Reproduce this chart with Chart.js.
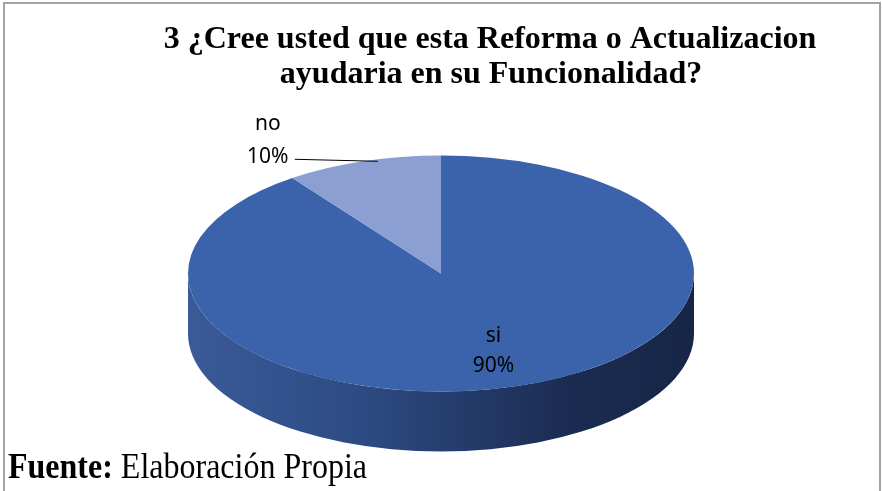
<!DOCTYPE html>
<html>
<head>
<meta charset="utf-8">
<script src="https://cdn.jsdelivr.net/npm/chart.js@4"></script>
<style>
  html, body { margin: 0; padding: 0; background: #fff; }
  #wrap { width: 882px; height: 491px; position: relative; }
</style>
</head>
<body>
<div id="wrap"><canvas id="myChart" width="882" height="491"></canvas></div>
<script>
const labels = ["si", "no"];
const values = [90, 10];
const colors = ["#3b63ab", "#8c9fd2"];
const titleLines = ["3 ¿Cree usted que esta Reforma o Actualizacion", "ayudaria en su Funcionalidad?"];

// flatten the pie into a tilted disc with a side wall
const SX = 1.471, SY = 0.686, DEPTH = 60;

const pie3d = {
  id: "pie3d",
  beforeDatasetsDraw(chart) {
    const ctx = chart.ctx;
    const arc = chart.getDatasetMeta(0).data[0];
    const cx = arc.x, cy = arc.y;
    const rx = arc.outerRadius * SX, ry = arc.outerRadius * SY;

    ctx.save();
    const g = ctx.createLinearGradient(cx - rx, 0, cx + rx, 0);
    g.addColorStop(0, "#3a5a98");
    g.addColorStop(0.35, "#2d4a82");
    g.addColorStop(0.75, "#1b2c52");
    g.addColorStop(1, "#172646");
    ctx.beginPath();
    ctx.ellipse(cx, cy, rx, ry, 0, 0, Math.PI);
    ctx.lineTo(cx - rx, cy + DEPTH);
    ctx.ellipse(cx, cy + DEPTH, rx, ry, 0, Math.PI, 0, true);
    ctx.closePath();
    ctx.fillStyle = g;
    ctx.fill();
    ctx.restore();

    ctx.save();
    ctx.translate(cx, cy);
    ctx.scale(SX, SY);
    ctx.translate(-cx, -cy);
  },
  afterDatasetsDraw(chart) {
    const ctx = chart.ctx;
    ctx.restore();

    const meta = chart.getDatasetMeta(0);
    const total = values.reduce((a, b) => a + b, 0);
    ctx.save();
    ctx.fillStyle = "#000";
    ctx.font = "21px 'Noto Sans'";
    ctx.textAlign = "center";
    ctx.textBaseline = "middle";
    meta.data.forEach((a, i) => {
      const mid = (a.startAngle + a.endAngle) / 2;
      const rx = a.outerRadius * SX, ry = a.outerRadius * SY;
      const pct = Math.round(values[i] / total * 100) + "%";
      if (i === 0) {
        const x = a.x + Math.cos(mid) * rx * 0.67;
        const y = a.y + Math.sin(mid) * ry * 0.69;
        ctx.fillText(labels[i], x, y - 15);
        ctx.fillText(pct, x, y + 15);
      } else {
        const ex = a.x + Math.cos(mid) * rx + 15;
        const ey = a.y + Math.sin(mid) * ry;
        const sx = ex - 83;
        ctx.strokeStyle = "#000";
        ctx.lineWidth = 1;
        ctx.beginPath();
        ctx.moveTo(sx, ey - 2);
        ctx.lineTo(ex, ey);
        ctx.stroke();
        ctx.fillText(labels[i], sx - 27, ey - 37);
        ctx.fillText(pct, sx - 27, ey - 4);
      }
    });
    ctx.restore();
  },
  afterDraw(chart) {
    const ctx = chart.ctx;
    ctx.save();
    ctx.strokeStyle = "#a3a3a3";
    ctx.lineWidth = 2;
    ctx.beginPath();
    ctx.moveTo(4, 491);
    ctx.lineTo(4, 3);
    ctx.lineTo(880, 3);
    ctx.lineTo(880, 491);
    ctx.stroke();

    ctx.fillStyle = "#000";
    ctx.textAlign = "center";
    ctx.textBaseline = "alphabetic";
    ctx.font = "bold 32px 'Liberation Serif'";
    ctx.fillText(titleLines[0], 490, 48);
    ctx.fillText(titleLines[1], 491, 83);

    ctx.textAlign = "left";
    ctx.translate(0, 478);
    ctx.scale(1, 1.12);
    ctx.font = "bold 32px 'Liberation Serif'";
    ctx.fillText("Fuente:", 8, 0);
    const w = ctx.measureText("Fuente:").width;
    ctx.font = "32px 'Liberation Serif'";
    ctx.fillText(" Elaboración Propia", 8 + w, 0);
    ctx.restore();
  }
};

new Chart(document.querySelector("#myChart"), {
  type: "pie",
  data: {
    labels,
    datasets: [{
      data: values,
      backgroundColor: colors,
      borderWidth: 0,
    }],
  },
  options: {
    responsive: false,
    animation: false,
    layout: { padding: { top: 101, bottom: 45, left: 269, right: 269 } },
    plugins: {
      legend: { display: false },
      tooltip: { enabled: false },
    },
  },
  plugins: [pie3d],
});
</script>
</body>
</html>
